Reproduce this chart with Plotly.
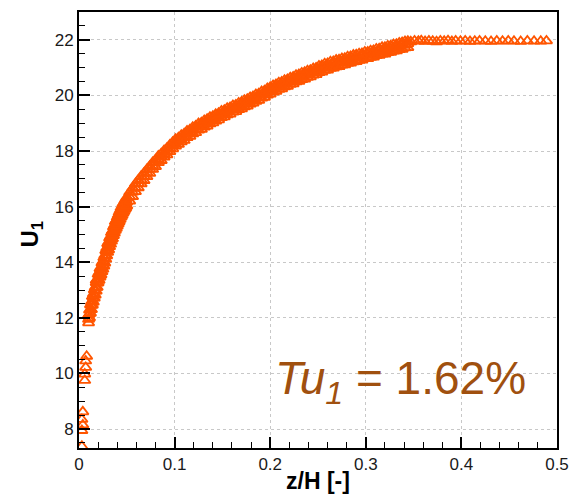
import plotly.graph_objects as go

# near-wall scattered samples
x_wall = [0.003, 0.003, 0.004, 0.003, 0.004, 0.006, 0.006, 0.007, 0.007, 0.008, 0.018]
u_wall = [7.38, 7.95, 8.15, 8.35, 8.62, 9.75, 9.98, 10.22, 10.45, 10.62, 13.35]

# boundary-layer band (upper edge, middle and lower edge readings)
x_band = [0.010, 0.011, 0.012, 0.013, 0.014, 0.015, 0.016, 0.017, 0.018, 0.019,
          0.020, 0.021, 0.022, 0.023, 0.024, 0.025, 0.026, 0.027, 0.028, 0.029,
          0.030, 0.031, 0.032, 0.033, 0.034, 0.035, 0.036, 0.037, 0.038, 0.039,
          0.040, 0.041, 0.042, 0.043, 0.044, 0.045, 0.046, 0.047, 0.048, 0.049,
          0.050,
          0.053, 0.056, 0.059, 0.062, 0.065, 0.068, 0.071, 0.074, 0.077, 0.080,
          0.083, 0.086, 0.089, 0.092, 0.095, 0.098, 0.101, 0.104, 0.107, 0.110,
          0.113, 0.116, 0.119, 0.122, 0.125, 0.128, 0.131, 0.134, 0.137, 0.140,
          0.143, 0.146, 0.149, 0.152, 0.155, 0.158, 0.161, 0.164, 0.167, 0.170,
          0.173, 0.176, 0.179, 0.182, 0.185, 0.188, 0.191, 0.194, 0.197, 0.200,
          0.203, 0.206, 0.209, 0.212, 0.215, 0.218, 0.221, 0.224, 0.227, 0.230,
          0.233, 0.236, 0.239, 0.242, 0.245, 0.248, 0.251, 0.254, 0.257, 0.260,
          0.263, 0.266, 0.269, 0.272, 0.275, 0.278, 0.281, 0.284, 0.287, 0.290,
          0.293, 0.296, 0.299, 0.302, 0.305, 0.308, 0.311, 0.314, 0.317, 0.320,
          0.323, 0.326, 0.329, 0.332, 0.335, 0.338, 0.341, 0.344]

u_band_hi = [12.10, 12.28, 12.47, 12.58, 12.77, 12.86, 13.01, 13.10, 13.27, 13.38,
             13.57, 13.63, 13.77, 13.83, 13.97, 14.03, 14.17, 14.25, 14.42, 14.51,
             14.67, 14.73, 14.87, 14.93, 15.07, 15.13, 15.27, 15.33, 15.46, 15.51,
             15.62, 15.70, 15.80, 15.87, 15.96, 16.02, 16.10, 16.15, 16.22, 16.27,
             16.34,
             16.52, 16.66, 16.82, 16.95, 17.09, 17.20, 17.34, 17.45, 17.59, 17.68,
             17.82, 17.90, 18.02, 18.10, 18.22, 18.32, 18.42, 18.48, 18.57, 18.62,
             18.72, 18.77, 18.86, 18.90, 18.99, 19.02, 19.10, 19.14, 19.22, 19.25,
             19.32, 19.36, 19.44, 19.47, 19.54, 19.57, 19.64, 19.66, 19.73, 19.76,
             19.83, 19.86, 19.93, 19.96, 20.03, 20.06, 20.14, 20.17, 20.25, 20.29,
             20.36, 20.39, 20.46, 20.48, 20.55, 20.57, 20.64, 20.66, 20.73, 20.75,
             20.81, 20.83, 20.89, 20.91, 20.97, 20.99, 21.06, 21.08, 21.14, 21.15,
             21.21, 21.22, 21.27, 21.28, 21.33, 21.34, 21.39, 21.40, 21.45, 21.46,
             21.50, 21.51, 21.56, 21.56, 21.61, 21.62, 21.67, 21.68, 21.73, 21.73,
             21.78, 21.79, 21.83, 21.84, 21.89, 21.90, 21.94, 21.95]

u_band_mid = [11.95, 12.15, 12.30, 12.45, 12.60, 12.72, 12.85, 12.97, 13.10, 13.25,
              13.40, 13.50, 13.60, 13.70, 13.80, 13.90, 14.00, 14.12, 14.25, 14.38,
              14.50, 14.60, 14.70, 14.80, 14.90, 15.00, 15.10, 15.20, 15.30, 15.38,
              15.45, 15.54, 15.62, 15.70, 15.78, 15.85, 15.92, 15.99, 16.05, 16.11,
              16.17,
              16.35, 16.52, 16.68, 16.83, 16.96, 17.09, 17.22, 17.35, 17.47, 17.58,
              17.70, 17.80, 17.90, 18.00, 18.10, 18.21, 18.30, 18.38, 18.45, 18.52,
              18.60, 18.67, 18.74, 18.80, 18.87, 18.92, 18.98, 19.04, 19.10, 19.15,
              19.20, 19.26, 19.32, 19.37, 19.42, 19.47, 19.52, 19.56, 19.61, 19.66,
              19.71, 19.76, 19.81, 19.86, 19.91, 19.96, 20.02, 20.07, 20.13, 20.19,
              20.24, 20.29, 20.34, 20.38, 20.43, 20.47, 20.52, 20.56, 20.61, 20.65,
              20.69, 20.73, 20.77, 20.81, 20.85, 20.89, 20.94, 20.98, 21.02, 21.05,
              21.09, 21.12, 21.15, 21.18, 21.21, 21.24, 21.27, 21.30, 21.33, 21.36,
              21.38, 21.41, 21.44, 21.46, 21.49, 21.52, 21.55, 21.58, 21.61, 21.63,
              21.66, 21.69, 21.71, 21.74, 21.77, 21.80, 21.83, 21.86]

u_band_lo = [11.82, 12.00, 12.17, 12.30, 12.46, 12.57, 12.71, 12.82, 12.96, 13.10,
             13.26, 13.35, 13.47, 13.55, 13.66, 13.75, 13.86, 13.97, 14.11, 14.23,
             14.36, 14.45, 14.56, 14.65, 14.76, 14.85, 14.96, 15.05, 15.15, 15.22,
             15.30, 15.38, 15.46, 15.54, 15.62, 15.69, 15.77, 15.83, 15.90, 15.96,
             16.03,
             16.20, 16.36, 16.54, 16.68, 16.82, 16.94, 17.08, 17.20, 17.34, 17.44,
             17.58, 17.66, 17.78, 17.86, 17.98, 18.08, 18.18, 18.24, 18.33, 18.38,
             18.48, 18.53, 18.62, 18.66, 18.75, 18.78, 18.86, 18.90, 18.98, 19.01,
             19.08, 19.12, 19.20, 19.23, 19.30, 19.33, 19.40, 19.42, 19.49, 19.52,
             19.59, 19.62, 19.69, 19.72, 19.79, 19.82, 19.90, 19.93, 20.01, 20.05,
             20.12, 20.15, 20.22, 20.24, 20.31, 20.33, 20.40, 20.42, 20.49, 20.51,
             20.57, 20.59, 20.65, 20.67, 20.73, 20.75, 20.82, 20.84, 20.90, 20.91,
             20.97, 20.98, 21.03, 21.04, 21.09, 21.10, 21.15, 21.16, 21.21, 21.22,
             21.26, 21.27, 21.32, 21.32, 21.37, 21.38, 21.43, 21.44, 21.49, 21.49,
             21.54, 21.55, 21.59, 21.60, 21.65, 21.66, 21.71, 21.72]

# free-stream plateau
x_free = [0.347, 0.351, 0.355, 0.358, 0.362, 0.366, 0.370, 0.374, 0.378, 0.382,
          0.386, 0.390, 0.394, 0.399, 0.404, 0.409, 0.414, 0.419, 0.425, 0.431,
          0.437, 0.443, 0.449, 0.455, 0.462, 0.469, 0.476, 0.483, 0.489]
u_free = [21.93, 21.96, 21.95, 21.97, 21.94, 21.96, 21.95, 21.93, 21.96, 21.95,
          21.97, 21.94, 21.96, 21.95, 21.96, 21.94, 21.95, 21.96, 21.95, 21.94,
          21.96, 21.95, 21.96, 21.95, 21.94, 21.96, 21.95, 21.95, 21.96]

x_ticks = [0, 0.1, 0.2, 0.3, 0.4, 0.5]
x_ticklabels = ["0", "0.1", "0.2", "0.3", "0.4", "0.5"]
y_ticks = [8, 10, 12, 14, 16, 18, 20, 22]

ORANGE = "#FF5500"
FONT = "Liberation Sans, Arial, sans-serif"

xs = x_wall + x_band + x_band + x_band + x_free
ys = u_wall + u_band_hi + u_band_mid + u_band_lo + u_free

fig = go.Figure()
fig.add_trace(go.Scatter(
    x=xs, y=ys, mode="markers",
    marker=dict(symbol="triangle-up-open", size=10, color=ORANGE,
                line=dict(width=1.8, color=ORANGE)),
    showlegend=False, hoverinfo="skip",
))

axis_common = dict(
    showline=True, linecolor="black", linewidth=2, mirror=True,
    ticks="inside", ticklen=11, tickwidth=2, tickcolor="black",
    showgrid=True, gridcolor="#c8c8c8", griddash="dot", gridwidth=1,
    zeroline=False,
    tickfont=dict(family=FONT, size=17, color="#1a1a1a"),
)

fig.update_xaxes(range=[0, 0.5], tickvals=x_ticks, ticktext=x_ticklabels,
                 minor=dict(dtick=0.02, tick0=0, ticks="inside", ticklen=6,
                            tickwidth=1, tickcolor="black", showgrid=False),
                 **axis_common)
fig.update_yaxes(range=[7.32, 23.0], tickvals=y_ticks,
                 minor=dict(dtick=0.5, tick0=0, ticks="inside", ticklen=6,
                            tickwidth=1, tickcolor="black", showgrid=False),
                 **axis_common)

fig.add_annotation(text="<b>z/H [-]</b>", xref="paper", yref="paper",
                   x=0.5, y=-0.075, xanchor="center", yanchor="middle",
                   showarrow=False, font=dict(family=FONT, size=23, color="black"))
fig.add_annotation(text="<b>U<sub>1</sub></b>", xref="paper", yref="paper",
                   x=-0.1, y=0.49, xanchor="center", yanchor="middle",
                   textangle=-90, showarrow=False,
                   font=dict(family=FONT, size=24, color="black"))
fig.add_annotation(text="<i>Tu<sub>1</sub></i> = 1.62%", xref="x", yref="y",
                   x=0.336, y=9.7, xanchor="center", yanchor="middle",
                   showarrow=False, font=dict(family=FONT, size=46, color="#A0500F"))

fig.update_layout(
    width=579, height=495,
    margin=dict(l=79, r=20, t=10, b=47),
    paper_bgcolor="white", plot_bgcolor="white",
)

fig.write_html("out.html")
